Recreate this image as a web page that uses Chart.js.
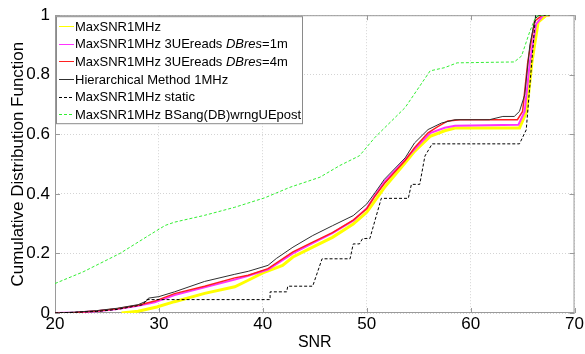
<!DOCTYPE html>
<html>
<head>
<meta charset="utf-8">
<script src="https://cdn.jsdelivr.net/npm/chart.js@4.4.1/dist/chart.umd.min.js"></script>
<style>
  html, body { margin: 0; padding: 0; background: #fff; }
</style>
</head>
<body>
<canvas id="chart" width="585" height="354"></canvas>
<script>
// values (SNR on x, CDF on y)
const xTicks = [20, 30, 40, 50, 60, 70];
const yTicks = [0, 0.2, 0.4, 0.6, 0.8, 1];

const seriesNames = [
  "MaxSNR1MHz",
  "MaxSNR1MHz 3UEreads _DBres_=1m",
  "MaxSNR1MHz 3UEreads _DBres_=4m",
  "Hierarchical Method 1MHz",
  "MaxSNR1MHz static",
  "MaxSNR1MHz BSang(DB)wrngUEpost"
];

const yellowSnr = [26.4, 28, 29.8, 31.5, 34.4, 37.3, 38.6, 40, 41.9, 42.9, 44.8, 46.7, 48.7, 50, 50.8, 51.7, 53.7, 54.6, 56.1, 57.5, 58.5, 64.7, 65.4, 65.9, 66.5, 67.3, 67.6];
const yellowCdf = [0, 0.006, 0.02, 0.038, 0.066, 0.088, 0.11, 0.135, 0.16, 0.188, 0.221, 0.254, 0.299, 0.338, 0.377, 0.421, 0.504, 0.543, 0.593, 0.612, 0.621, 0.621, 0.677, 0.843, 0.977, 1, 1];

const magentaSnr = [20, 22, 24, 26, 28, 29.6, 31.5, 34.4, 37.3, 38.6, 40.5, 42.9, 44.8, 46.7, 48.7, 50, 50.8, 51.7, 53.7, 54.6, 56.1, 57.5, 58.5, 64.6, 65.2, 65.7, 66.3, 67, 67.6];
const magentaCdf = [0, 0.002, 0.006, 0.013, 0.024, 0.036, 0.06, 0.086, 0.112, 0.125, 0.146, 0.2, 0.235, 0.268, 0.31, 0.352, 0.395, 0.44, 0.515, 0.55, 0.604, 0.622, 0.629, 0.632, 0.677, 0.843, 0.97, 1, 1];

const redSnr = [20, 22, 24, 26, 28, 29.6, 31.5, 34.4, 37.3, 38.6, 40.5, 42.9, 44.8, 46.7, 48.7, 50, 50.8, 51.7, 53.7, 54.6, 55.9, 56.8, 57.8, 59, 64.5, 65, 65.5, 66.15, 66.9, 67.6];
const redCdf = [0, 0.002, 0.007, 0.014, 0.026, 0.04, 0.065, 0.09, 0.118, 0.127, 0.149, 0.205, 0.238, 0.27, 0.312, 0.35, 0.393, 0.435, 0.512, 0.555, 0.605, 0.625, 0.645, 0.649, 0.649, 0.677, 0.843, 0.98, 1, 1];

const hierSnr = [20, 22, 24, 26, 28, 28.8, 29, 30, 31.5, 34.4, 37.3, 38.6, 40.5, 41.3, 42.9, 44.8, 46.7, 48.7, 50, 50.8, 51.7, 53.7, 54.6, 55.9, 57.2, 58.5, 61.8, 63.1, 64.2, 64.7, 65.2, 65.7, 66.2, 66.6, 67.6];
const hierCdf = [0, 0.003, 0.008, 0.016, 0.028, 0.04, 0.05, 0.055, 0.071, 0.106, 0.13, 0.14, 0.16, 0.183, 0.221, 0.26, 0.293, 0.327, 0.366, 0.404, 0.449, 0.521, 0.571, 0.616, 0.638, 0.649, 0.649, 0.66, 0.66, 0.677, 0.732, 0.9, 0.988, 1, 1];

const staticSnr = [20, 24, 26, 28.5, 28.8, 40.7, 40.7, 42.3, 42.4, 44.8, 45.7, 48.4, 48.7, 49.3, 49.6, 50.3, 51.4, 54, 54.3, 55.1, 55.6, 56.3, 64.7, 65.35, 66.25, 67.6];
const staticCdf = [0, 0.005, 0.012, 0.028, 0.045, 0.045, 0.071, 0.071, 0.09, 0.09, 0.182, 0.182, 0.232, 0.232, 0.25, 0.25, 0.385, 0.385, 0.432, 0.432, 0.527, 0.568, 0.568, 0.615, 1, 1];

const greenSnr = [20, 22.7, 26.25, 29.1, 30.6, 31.5, 34.4, 37.3, 40.2, 42.6, 45.5, 47.4, 49.3, 50.8, 53.7, 56.1, 57.5, 58.7, 64.2, 64.9, 65.7, 66.3, 67.6];
const greenCdf = [0.099, 0.138, 0.2, 0.262, 0.294, 0.305, 0.328, 0.355, 0.387, 0.422, 0.456, 0.495, 0.528, 0.59, 0.69, 0.813, 0.824, 0.84, 0.843, 0.863, 0.946, 0.997, 1];

const toPoints = (xs, ys) => xs.map((x, i) => ({ x: x, y: ys[i] }));

const styles = [
  { color: "#ffff00", width: 3, dash: [] },
  { color: "#ff33ff", width: 2, dash: [] },
  { color: "#ff2020", width: 1.5, dash: [] },
  { color: "#303030", width: 1, dash: [] },
  { color: "#000000", width: 1, dash: [3, 2] },
  { color: "#33ee33", width: 1, dash: [3, 2] }
];

const allData = [
  toPoints(yellowSnr, yellowCdf),
  toPoints(magentaSnr, magentaCdf),
  toPoints(redSnr, redCdf),
  toPoints(hierSnr, hierCdf),
  toPoints(staticSnr, staticCdf),
  toPoints(greenSnr, greenCdf)
];

const FONT = "'Liberation Sans', Arial, sans-serif";

// axes frame + inward tick marks, MATLAB style
const framePlugin = {
  id: "frame",
  beforeDatasetsDraw(chart) {
    const { ctx, chartArea: a, scales } = chart;
    ctx.save();
    ctx.strokeStyle = "#9a9a9a";
    ctx.lineWidth = 1;
    ctx.strokeRect(a.left + 0.5, a.top + 0.5, a.right - a.left - 1, a.bottom - a.top - 1);
    ctx.beginPath();
    xTicks.forEach(v => {
      const px = Math.round(scales.x.getPixelForValue(v)) + 0.5;
      ctx.moveTo(px, a.bottom); ctx.lineTo(px, a.bottom - 5);
      ctx.moveTo(px, a.top); ctx.lineTo(px, a.top + 5);
    });
    yTicks.forEach(v => {
      const py = Math.round(scales.y.getPixelForValue(v)) + 0.5;
      ctx.moveTo(a.left, py); ctx.lineTo(a.left + 5, py);
      ctx.moveTo(a.right, py); ctx.lineTo(a.right - 5, py);
    });
    ctx.stroke();
    ctx.restore();
  }
};

// boxed legend in the top-left corner
const legendPlugin = {
  id: "boxLegend",
  afterDraw(chart) {
    const { ctx, chartArea: a } = chart;
    const x0 = a.left + 1, y0 = a.top + 1, w = 246, h = 107;
    ctx.save();
    ctx.fillStyle = "#fff";
    ctx.fillRect(x0, y0, w, h);
    ctx.strokeStyle = "#8a8a8a";
    ctx.lineWidth = 1;
    ctx.strokeRect(x0 + 0.5, y0 + 0.5, w, h);
    ctx.textBaseline = "middle";
    seriesNames.forEach((name, i) => {
      const y = y0 + 10 + i * 17.6;
      const s = styles[i];
      ctx.strokeStyle = s.color;
      ctx.lineWidth = 1;
      ctx.setLineDash(s.dash);
      ctx.beginPath();
      ctx.moveTo(x0 + 3, Math.round(y) + 0.5);
      ctx.lineTo(x0 + 18, Math.round(y) + 0.5);
      ctx.stroke();
      ctx.setLineDash([]);
      ctx.fillStyle = "#000";
      let tx = x0 + 19;
      name.split("_").forEach((part, k) => {
        ctx.font = (k % 2 ? "italic " : "") + "13px " + FONT;
        ctx.fillText(part, tx, y + 1);
        tx += ctx.measureText(part).width;
      });
    });
    ctx.restore();
  }
};

new Chart(document.getElementById("chart"), {
  type: "line",
  data: {
    datasets: allData.map((pts, i) => ({
      label: seriesNames[i],
      data: pts,
      borderColor: styles[i].color,
      borderWidth: styles[i].width,
      borderDash: styles[i].dash,
      pointRadius: 0,
      tension: 0,
      fill: false,
      order: 5 - i
    }))
  },
  options: {
    responsive: false,
    animation: false,
    devicePixelRatio: 1,
    layout: { padding: { top: 14, right: 10, left: 0, bottom: 0 } },
    plugins: { legend: { display: false }, tooltip: { enabled: false } },
    scales: {
      x: {
        type: "linear",
        min: 20, max: 70,
        afterFit: s => { s.height = 41; },
        afterBuildTicks: s => { s.ticks = xTicks.map(v => ({ value: v })); },
        ticks: { color: "#000", font: { family: FONT, size: 17 }, padding: 1, maxRotation: 0 },
        grid: { color: "#d4d4d4", drawTicks: false },
        border: { display: false, dash: [1, 2] },
        title: { display: true, text: "SNR", color: "#000", font: { family: FONT, size: 16 }, padding: { top: 0, bottom: 2 } }
      },
      y: {
        type: "linear",
        min: 0, max: 1,
        afterFit: s => { s.width = 55; },
        afterBuildTicks: s => { s.ticks = yTicks.map(v => ({ value: v })); },
        ticks: { color: "#000", font: { family: FONT, size: 17 }, padding: 5, callback: v => String(v) },
        grid: { color: "#d4d4d4", drawTicks: false },
        border: { display: false, dash: [1, 2] },
        title: { display: true, text: "Cumulative Distribution Function", color: "#000", font: { family: FONT, size: 17 }, padding: { top: 8, bottom: 0 } }
      }
    }
  },
  plugins: [framePlugin, legendPlugin]
});
</script>
</body>
</html>
